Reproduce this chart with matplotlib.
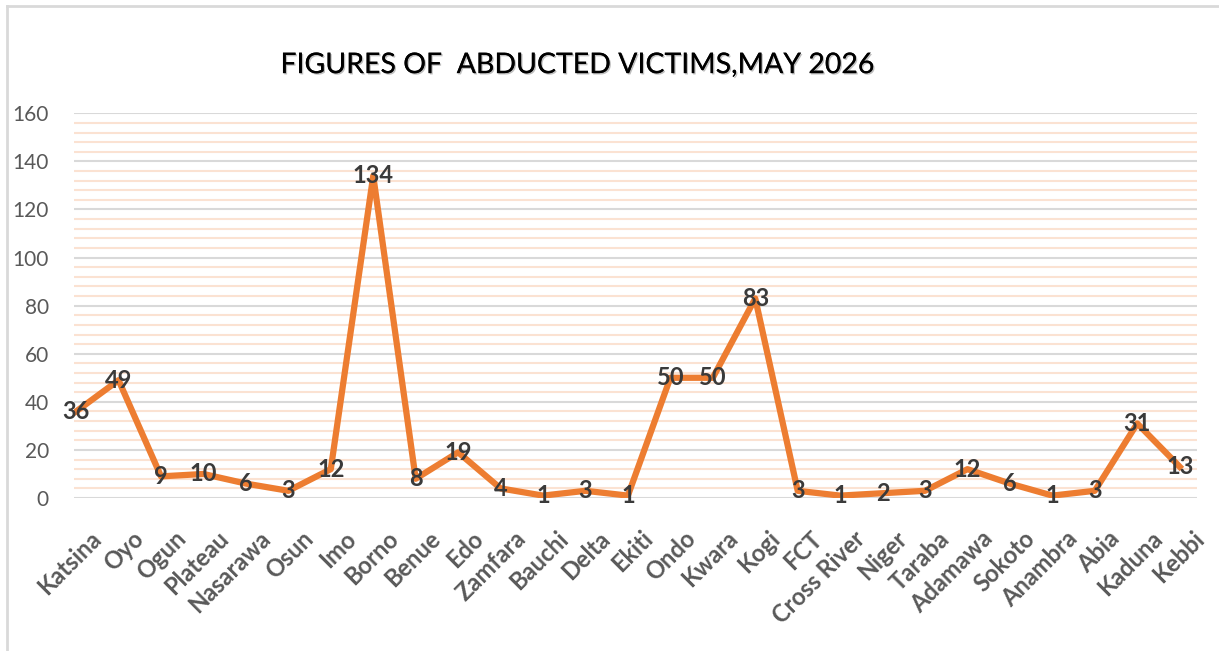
import matplotlib
matplotlib.use("Agg")
import matplotlib.pyplot as plt
import matplotlib.patheffects as pe
from matplotlib.lines import Line2D
from matplotlib.ticker import MultipleLocator
from matplotlib.transforms import ScaledTranslation

# data
states = ["Katsina", "Oyo", "Ogun", "Plateau", "Nasarawa", "Osun", "Imo", "Borno",
          "Benue", "Edo", "Zamfara", "Bauchi", "Delta", "Ekiti", "Ondo", "Kwara",
          "Kogi", "FCT", "Cross River", "Niger", "Taraba", "Adamawa", "Sokoto",
          "Anambra", "Abia", "Kaduna", "Kebbi"]
victims = [36, 49, 9, 10, 6, 3, 12, 134, 8, 19, 4, 1, 3, 1, 50, 50, 83, 3, 1, 2,
           3, 12, 6, 1, 3, 31, 13]

plt.rcParams['font.family'] = ['Lato', 'DejaVu Sans']

fig = plt.figure(figsize=(12.19, 6.51), dpi=100)
ax = fig.add_axes([0.0607, 0.235, 0.921, 0.591])

x = list(range(len(states)))
ax.plot(x, victims, color="#ED7D31", lw=4.5, solid_joinstyle="round", zorder=3)
for xi, v in zip(x, victims):
    ax.text(xi, v, str(v), ha="center", va="center", fontsize=17,
            fontweight="bold", color="#3A3A3A", zorder=4)

ax.set_ylim(0, 160)
ax.set_xlim(-0.05, len(states) - 0.6)
ax.yaxis.set_major_locator(MultipleLocator(20))
ax.yaxis.set_minor_locator(MultipleLocator(4))
ax.grid(which="major", axis="y", color="#D9D9D9", lw=1.5, zorder=1)
ax.grid(which="minor", axis="y", color="#FBE2D2", lw=1.5, zorder=1)
ax.tick_params(axis="y", which="both", length=0, labelsize=15, labelcolor="#595959", pad=18)
ax.tick_params(axis="x", length=0, pad=0)
ax.set_xticks(x)
ax.set_xticklabels(states, rotation=45, ha="right", va="center", rotation_mode="anchor",
                   fontsize=17, fontweight="bold", color="#595959")
shift = ScaledTranslation(21 / 100, -37 / 100, fig.dpi_scale_trans)
for lab in ax.get_xticklabels():
    lab.set_transform(lab.get_transform() + shift)
for s in ax.spines.values():
    s.set_visible(False)

fig.text(0.474, 0.9, "FIGURES OF  ABDUCTED VICTIMS,MAY 2026", ha="center",
         va="center", fontsize=20.5, color="black",
         path_effects=[pe.withSimplePatchShadow(offset=(1, -1), alpha=0.25), pe.Normal()])

# chart area border (top and left only visible)
fig.lines.append(Line2D([0.006, 1.0], [0.991, 0.991], transform=fig.transFigure,
                        color="#D9D9D9", lw=2))
fig.lines.append(Line2D([0.006, 0.006], [0.0, 0.991], transform=fig.transFigure,
                        color="#D9D9D9", lw=2))

fig.savefig("out.png", dpi=100)
